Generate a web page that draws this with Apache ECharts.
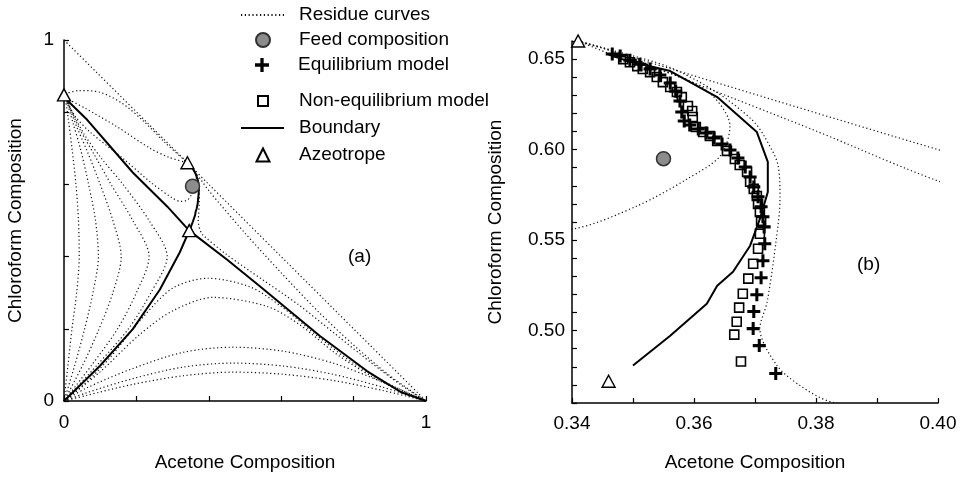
<!DOCTYPE html>
<html>
<head>
<meta charset="utf-8">
<style>
html, body { margin: 0; padding: 0; background: #fff; }
#chart { width: 964px; height: 477px; }
</style>
<script src="https://cdn.jsdelivr.net/npm/echarts@6/dist/echarts.min.js"></script>
</head>
<body>
<div id="chart"></div>
<script>
const FONT = '"Liberation Sans", Arial, Helvetica, sans-serif';

// Residue curves, [acetone, chloroform]
const resHypot = [[0, 1], [0.341, 0.66], [0.4, 0.6], [1, 0]];
const resUpperArc = [[0.003, 0.85], [0.04, 0.86], [0.1, 0.855], [0.16, 0.825], [0.22, 0.775], [0.28, 0.715], [0.341, 0.66]];
const resUpperMid = [[0.004, 0.84], [0.06, 0.81], [0.146, 0.76], [0.238, 0.7], [0.29, 0.675], [0.341, 0.66]];
const resFeed = [[0.005, 0.835], [0.03, 0.79], [0.072, 0.745], [0.163, 0.672], [0.238, 0.607], [0.3, 0.562],
  [0.322, 0.553], [0.3402, 0.5562], [0.3507, 0.5689], [0.3589, 0.5838], [0.3643, 0.5965], [0.3659, 0.613],
  [0.3631, 0.6296], [0.358, 0.64], [0.35, 0.648], [0.341, 0.66]];
const resRight1 = [[0.341, 0.66], [0.347, 0.6545], [0.356, 0.6455], [0.3638, 0.6315], [0.3695, 0.6165],
  [0.3715, 0.6075], [0.3738, 0.591], [0.3741, 0.5728], [0.3735, 0.5507], [0.372, 0.516], [0.3708, 0.5011],
  [0.3736, 0.4807], [0.3774, 0.4696], [0.3823, 0.4608], [0.45, 0.405], [0.55, 0.335], [0.65, 0.265],
  [0.75, 0.185], [0.85, 0.105], [0.93, 0.045], [1, 0]];
const resRight2 = [[0.341, 0.66], [0.347, 0.654], [0.361, 0.6355], [0.38, 0.6103], [0.4, 0.5827], [0.5, 0.465],
  [0.6, 0.355], [0.7, 0.25], [0.8, 0.155], [0.9, 0.07], [1, 0]];
const resLow1 = [[0, 0], [0.06, 0.05], [0.127, 0.12], [0.218, 0.232], [0.301, 0.313], [0.398, 0.34], [0.514, 0.316],
  [0.6, 0.262], [0.7, 0.18], [0.8, 0.104], [0.9, 0.046], [1, 0]];
const resLow2 = [[0, 0], [0.099, 0.08], [0.21, 0.185], [0.301, 0.25], [0.412, 0.287], [0.561, 0.262], [0.65, 0.212],
  [0.75, 0.132], [0.85, 0.068], [0.93, 0.028], [1, 0]];
const resLow3 = [[0, 0], [0.06, 0.035], [0.19, 0.09], [0.33, 0.135], [0.467, 0.149], [0.605, 0.138], [0.743, 0.105], [0.881, 0.052], [1, 0]];
const resLow4 = [[0, 0], [0.06, 0.022], [0.19, 0.062], [0.33, 0.094], [0.467, 0.105], [0.605, 0.097], [0.743, 0.074], [0.881, 0.038], [1, 0]];
const resLow5 = [[0, 0], [0.06, 0.015], [0.19, 0.046], [0.33, 0.07], [0.467, 0.08], [0.605, 0.074], [0.743, 0.057], [0.881, 0.029], [1, 0]];
const resLeft1 = [[0.003, 0.845], [0.012, 0.78], [0.022, 0.7], [0.033, 0.6], [0.04, 0.5], [0.042, 0.4], [0.035, 0.3], [0.022, 0.2], [0.011, 0.1], [0, 0]];
const resLeft2 = [[0.005, 0.84], [0.025, 0.77], [0.045, 0.7], [0.068, 0.6], [0.087, 0.5], [0.095, 0.4], [0.08, 0.3], [0.057, 0.2], [0.03, 0.1], [0, 0]];
const resLeft3 = [[0.007, 0.835], [0.035, 0.76], [0.065, 0.69], [0.1, 0.6], [0.135, 0.5], [0.158, 0.4], [0.135, 0.3], [0.097, 0.2], [0.052, 0.1], [0, 0]];
const resLeft4 = [[0.009, 0.83], [0.045, 0.75], [0.085, 0.68], [0.13, 0.6], [0.19, 0.5], [0.235, 0.4], [0.2, 0.3], [0.148, 0.2], [0.077, 0.1], [0, 0]];
const resLeft5 = [[0.011, 0.825], [0.055, 0.74], [0.105, 0.67], [0.163, 0.6], [0.235, 0.5], [0.285, 0.4], [0.24, 0.3], [0.178, 0.2], [0.092, 0.1], [0, 0]];

// Distillation boundaries
const bndLeftUpper = [[0, 0.848], [0.008, 0.834], [0.064, 0.779], [0.19, 0.633], [0.285, 0.539], [0.346, 0.472]];
const bndLeftLower = [[0, 0], [0.099, 0.097], [0.19, 0.199], [0.265, 0.309], [0.32, 0.412], [0.346, 0.472]];
const bndRight = [[0.346, 0.472], [0.45, 0.392], [0.541, 0.318], [0.707, 0.18], [0.837, 0.083], [0.93, 0.025], [1, 0]];
const bndCurve = [[0.35, 0.4807], [0.3561, 0.4972], [0.3621, 0.5149], [0.3638, 0.5248], [0.3664, 0.5325],
  [0.3692, 0.5469], [0.3708, 0.5617], [0.3721, 0.5766], [0.3721, 0.5932], [0.3703, 0.6097], [0.3638, 0.629],
  [0.3561, 0.6434], [0.3492, 0.6489], [0.346, 0.6525]];

const azeotropes = [[0, 0.848], [0.341, 0.66], [0.346, 0.472]];
const feed = [[0.355, 0.595]];

// Column profiles (panel b)
const equilibrium = [[0.3466, 0.6528], [0.3479, 0.6517], [0.3495, 0.6494], [0.3511, 0.6472], [0.3528, 0.6445],
  [0.3544, 0.6412], [0.3561, 0.6368], [0.357, 0.6323], [0.3577, 0.6268], [0.358, 0.6208], [0.3584, 0.6158],
  [0.3593, 0.6136], [0.3607, 0.6114], [0.362, 0.6092], [0.3633, 0.6064], [0.3646, 0.6031], [0.3659, 0.5998],
  [0.3672, 0.5954], [0.3684, 0.5904], [0.3692, 0.5849], [0.3698, 0.5794], [0.3705, 0.5739], [0.371, 0.5684],
  [0.3713, 0.5629], [0.3715, 0.5573], [0.3716, 0.548], [0.3713, 0.5386], [0.371, 0.5292], [0.3703, 0.5198],
  [0.3698, 0.5105], [0.3697, 0.5011], [0.3707, 0.4917], [0.3734, 0.4763]];
const nonEquilibrium = [[0.3484, 0.65], [0.3495, 0.6483], [0.3507, 0.6461], [0.3516, 0.6445], [0.3528, 0.6428],
  [0.3539, 0.6401], [0.3549, 0.6373], [0.3561, 0.6346], [0.3572, 0.6318], [0.358, 0.629], [0.359, 0.6241],
  [0.3597, 0.6213], [0.3598, 0.618], [0.3603, 0.6125], [0.3615, 0.6097], [0.3626, 0.6075], [0.3638, 0.6048],
  [0.3654, 0.5993], [0.3667, 0.5948], [0.3675, 0.5915], [0.3687, 0.5877], [0.3692, 0.5822], [0.3698, 0.5783],
  [0.3703, 0.5744], [0.3705, 0.57], [0.3708, 0.5656], [0.371, 0.5606], [0.3708, 0.5535], [0.3705, 0.5452],
  [0.3697, 0.5369], [0.3689, 0.5287], [0.368, 0.5204], [0.3674, 0.5127], [0.367, 0.5049], [0.3666, 0.4978],
  [0.3677, 0.4829]];

const residueA = [resHypot, resUpperArc, resUpperMid, resFeed, resRight1, resRight2,
  resLow1, resLow2, resLow3, resLow4, resLow5, resLeft1, resLeft2, resLeft3, resLeft4, resLeft5];
const residueB = [resHypot, resFeed, resRight1, resRight2];
const boundaryA = [bndLeftUpper, bndLeftLower, bndRight, [azeotropes[2]].concat(bndCurve, [azeotropes[1]])];
const boundaryB = [bndCurve];

const PLUS = 'path://M4.6,0H7.4V4.6H12V7.4H7.4V12H4.6V7.4H0V4.6H4.6Z';

function residue(data, g) {
  return {
    type: 'line', name: 'Residue curves', data, xAxisIndex: g, yAxisIndex: g,
    symbol: 'none', smooth: 0.3, silent: true, z: 1,
    lineStyle: { color: '#111', width: 1.2, type: [1.2, 2.6] }, itemStyle: { color: '#111' }
  };
}
function boundary(data, g) {
  return {
    type: 'line', name: 'Boundary', data, xAxisIndex: g, yAxisIndex: g,
    symbol: 'none', silent: true, z: 2,
    lineStyle: { color: '#000', width: 2 }, itemStyle: { color: '#000' }
  };
}
function feedSeries(g) {
  return {
    type: 'scatter', name: 'Feed composition', data: feed, xAxisIndex: g, yAxisIndex: g,
    symbol: 'circle', symbolSize: 14, z: 4,
    itemStyle: { color: '#8c8c8c', borderColor: '#333', borderWidth: 1.5, opacity: 1 }
  };
}
function azeoSeries(g) {
  return {
    type: 'scatter', name: 'Azeotrope', data: azeotropes, xAxisIndex: g, yAxisIndex: g,
    symbol: 'triangle', symbolSize: [13, 12], z: 5,
    itemStyle: { color: '#fff', borderColor: '#000', borderWidth: 1.4, opacity: 1 }
  };
}

const axisCommon = {
  type: 'value',
  axisLine: { lineStyle: { color: '#000', width: 1.5 } },
  axisTick: { inside: true, length: 5, lineStyle: { color: '#000', width: 1.2 } },
  splitLine: { show: false },
  nameLocation: 'middle',
  nameTextStyle: { fontFamily: FONT, fontSize: 19, color: '#000' }
};
const labelCommon = { fontFamily: FONT, fontSize: 19, color: '#000' };
const endsOnly = v => (Math.abs(v) < 1e-9 || Math.abs(v - 1) < 1e-9) ? String(Math.round(v)) : '';

function legendText(pad) {
  return { fontFamily: FONT, fontSize: 19, color: '#000', lineHeight: 20, padding: [0, 0, 0, pad] };
}
// one legend block per entry so the rows keep the reference's uneven spacing
function lineLegend(name, cy) {
  return {
    orient: 'vertical', padding: 0, selectedMode: false, left: 240, top: cy - 10,
    itemWidth: 43, itemHeight: 20, textStyle: legendText(10),
    data: [{ name, itemStyle: { color: 'rgba(0,0,0,0)', borderWidth: 0 } }]
  };
}
function symbolLegend(name, cy, size) {
  return {
    orient: 'vertical', padding: 0, selectedMode: false, left: 262 - size / 2, top: cy - 10,
    itemWidth: size, itemHeight: size, textStyle: legendText(31 - size / 2),
    data: [name]
  };
}

const chart = echarts.init(document.getElementById('chart'));
chart.setOption({
  animation: false,
  backgroundColor: '#fff',
  grid: [
    { left: 64, top: 40, width: 362, height: 362 },
    { left: 572, top: 41, width: 366, height: 363 }
  ],
  xAxis: [
    Object.assign({}, axisCommon, {
      gridIndex: 0, min: 0, max: 1, interval: 0.2, name: 'Acetone Composition', nameGap: 52,
      axisLabel: Object.assign({ margin: 12, formatter: endsOnly }, labelCommon)
    }),
    Object.assign({}, axisCommon, {
      gridIndex: 1, min: 0.34, max: 0.40, interval: 0.01, name: 'Acetone Composition', nameGap: 50,
      axisLabel: Object.assign({
        margin: 11,
        formatter: v => (Math.round(v * 100) % 2 === 0 ? v.toFixed(2) : '')
      }, labelCommon)
    })
  ],
  yAxis: [
    Object.assign({}, axisCommon, {
      gridIndex: 0, min: 0, max: 1, interval: 0.2, name: 'Chloroform Composition', nameGap: 39,
      axisLabel: Object.assign({ margin: 10, formatter: endsOnly }, labelCommon)
    }),
    Object.assign({}, axisCommon, {
      gridIndex: 1, min: 0.46, max: 0.66, interval: 0.01, name: 'Chloroform Composition', nameGap: 67,
      axisLabel: Object.assign({
        margin: 7,
        formatter: v => (Math.round(v * 100) % 5 === 0 ? v.toFixed(2) : '')
      }, labelCommon)
    })
  ],
  legend: [
    lineLegend('Residue curves', 15),
    symbolLegend('Feed composition', 40, 14),
    symbolLegend('Equilibrium model', 65, 14),
    symbolLegend('Non-equilibrium model', 101, 10),
    lineLegend('Boundary', 128),
    symbolLegend('Azeotrope', 155, 13)
  ],
  graphic: [
    { type: 'text', left: 348, top: 247, style: { text: '(a)', fontFamily: FONT, fontSize: 19, fill: '#000' } },
    { type: 'text', left: 857, top: 255, style: { text: '(b)', fontFamily: FONT, fontSize: 19, fill: '#000' } }
  ],
  series: [].concat(
    residueA.map(d => residue(d, 0)),
    residueB.map(d => residue(d, 1)),
    boundaryA.map(d => boundary(d, 0)),
    boundaryB.map(d => boundary(d, 1)),
    [
      feedSeries(0), feedSeries(1),
      {
        type: 'scatter', name: 'Equilibrium model', data: equilibrium, xAxisIndex: 1, yAxisIndex: 1,
        symbol: PLUS, symbolSize: 13, z: 4, itemStyle: { color: '#000', opacity: 1 }
      },
      {
        type: 'scatter', name: 'Non-equilibrium model', data: nonEquilibrium, xAxisIndex: 1, yAxisIndex: 1,
        symbol: 'rect', symbolSize: 9, z: 3,
        itemStyle: { color: 'rgba(0,0,0,0)', borderColor: '#000', borderWidth: 1.6, opacity: 1 }
      },
      azeoSeries(0), azeoSeries(1)
    ]
  )
});
</script>
</body>
</html>
